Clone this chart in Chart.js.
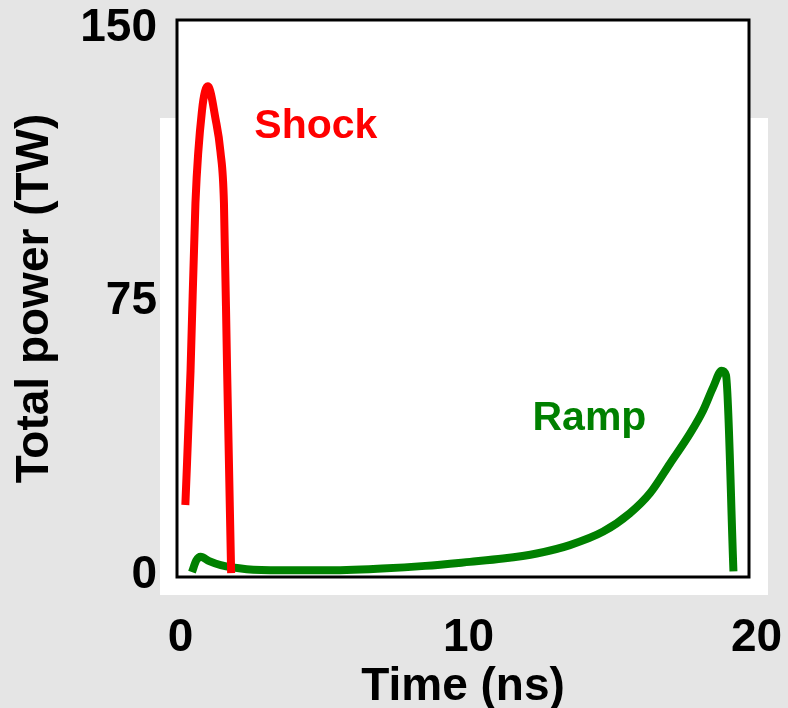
<!DOCTYPE html>
<html lang="en">
<head>
    <meta charset="UTF-8">
    <title>Total power vs time</title>
    <script src="https://cdn.jsdelivr.net/npm/chart.js"></script>
    <style>
        html, body {
            margin: 0;
            padding: 0;
            background: #e5e5e5;
        }
        .chart-box {
            position: relative;
            width: 788px;
            height: 708px;
        }
    </style>
</head>
<body>

<div class="chart-box">
    <canvas id="powerChart"></canvas>
</div>

<script>
    // Values
    const shockTime  = [0.17, 0.35, 0.52, 0.75, 0.95, 1.22, 1.39, 1.51, 1.62, 1.76];
    const shockPower = [19.2, 56, 102, 127.5, 134, 125, 116, 102, 56, 0.5];

    const rampTime  = [0.4, 0.55, 0.7, 1.0, 1.4, 2.3, 3.5, 5, 7, 8.5, 10.05, 11.2, 12.37, 13.52,
                       14.68, 15.6, 16.3, 17, 17.7, 18.15, 18.5, 18.79, 18.94, 19.2];
    const rampPower = [0.8, 4, 5, 3.8, 2.7, 1.6, 1.3, 1.3, 1.8, 2.5, 3.6, 4.5, 5.9, 8.2,
                       11.9, 16.9, 22.4, 30.6, 38.9, 45.2, 51.6, 56, 54.8, 1.0];

    const xTicks = [0, 10, 20];
    const yTicks = [0, 75, 150];

    // where the two curve names sit (data units)
    const shockLabel = { text: 'Shock', x: 4.7, y: 123, color: '#ff0000' };
    const rampLabel  = { text: 'Ramp', x: 14.2, y: 43, color: '#008000' };

    const FONT = '"Liberation Sans", Arial, sans-serif';

    function toPoints(xs, ys) {
        return xs.map((x, i) => ({ x: x, y: ys[i] }));
    }

    // white paper behind the plot + black frame + curve names
    const framePlugin = {
        id: 'frame',
        beforeDraw(chart) {
            const { ctx, chartArea: a } = chart;
            ctx.save();
            ctx.fillStyle = '#ffffff';
            ctx.fillRect(a.left - 17, a.top + 98, a.right - a.left + 36, a.bottom - a.top - 80);
            ctx.fillRect(a.left, a.top, a.right - a.left, a.bottom - a.top);
            ctx.restore();
        },
        afterDatasetsDraw(chart) {
            const { ctx, chartArea: a, scales } = chart;
            ctx.save();
            ctx.strokeStyle = '#000000';
            ctx.lineWidth = 3;
            ctx.strokeRect(a.left, a.top, a.right - a.left, a.bottom - a.top);

            ctx.font = 'bold 41px ' + FONT;
            ctx.textAlign = 'center';
            ctx.textBaseline = 'middle';
            [shockLabel, rampLabel].forEach(l => {
                ctx.fillStyle = l.color;
                ctx.fillText(l.text, scales.x.getPixelForValue(l.x), scales.y.getPixelForValue(l.y));
            });
            ctx.restore();
        }
    };

    new Chart(document.getElementById('powerChart'), {
        type: 'line',
        data: {
            datasets: [{
                label: 'Shock',
                data: toPoints(shockTime, shockPower),
                borderColor: '#ff0000',
                borderWidth: 8,
                pointRadius: 0,
                cubicInterpolationMode: 'monotone'
            }, {
                label: 'Ramp',
                data: toPoints(rampTime, rampPower),
                borderColor: '#008000',
                borderWidth: 8,
                pointRadius: 0,
                cubicInterpolationMode: 'monotone'
            }]
        },
        options: {
            responsive: true,
            maintainAspectRatio: false,
            animation: false,
            events: [],
            layout: {
                padding: { top: 20, right: 39, left: 0, bottom: 0 }
            },
            plugins: {
                legend: { display: false },
                tooltip: { enabled: false }
            },
            scales: {
                x: {
                    type: 'linear',
                    min: -0.12,
                    max: 19.74,
                    afterBuildTicks: scale => { scale.ticks = xTicks.map(v => ({ value: v })); },
                    afterFit: scale => {
                        scale.height = 131;
                        scale.paddingLeft = 0;
                        scale.paddingRight = 0;
                    },
                    grid: { display: false, drawTicks: false },
                    border: { display: false },
                    ticks: {
                        color: '#000000',
                        font: { family: FONT, size: 46, weight: 'bold' },
                        padding: 34,
                        maxRotation: 0,
                        autoSkip: false
                    },
                    title: {
                        display: true,
                        text: 'Time (ns)',
                        color: '#000000',
                        font: { family: FONT, size: 46, weight: 'bold' },
                        padding: { top: 0, bottom: -7 }
                    }
                },
                y: {
                    min: -0.55,
                    max: 152.2,
                    afterBuildTicks: scale => { scale.ticks = yTicks.map(v => ({ value: v })); },
                    afterFit: scale => {
                        scale.width = 177;
                        scale.paddingTop = 0;
                        scale.paddingBottom = 0;
                    },
                    grid: { display: false, drawTicks: false },
                    border: { display: false },
                    ticks: {
                        color: '#000000',
                        font: { family: FONT, size: 46, weight: 'bold' },
                        padding: 20
                    },
                    title: {
                        display: true,
                        text: 'Total power (TW)',
                        color: '#000000',
                        font: { family: FONT, size: 46, weight: 'bold' },
                        padding: { top: 8, bottom: 0 }
                    }
                }
            }
        },
        plugins: [framePlugin]
    });
</script>
</body>
</html>
